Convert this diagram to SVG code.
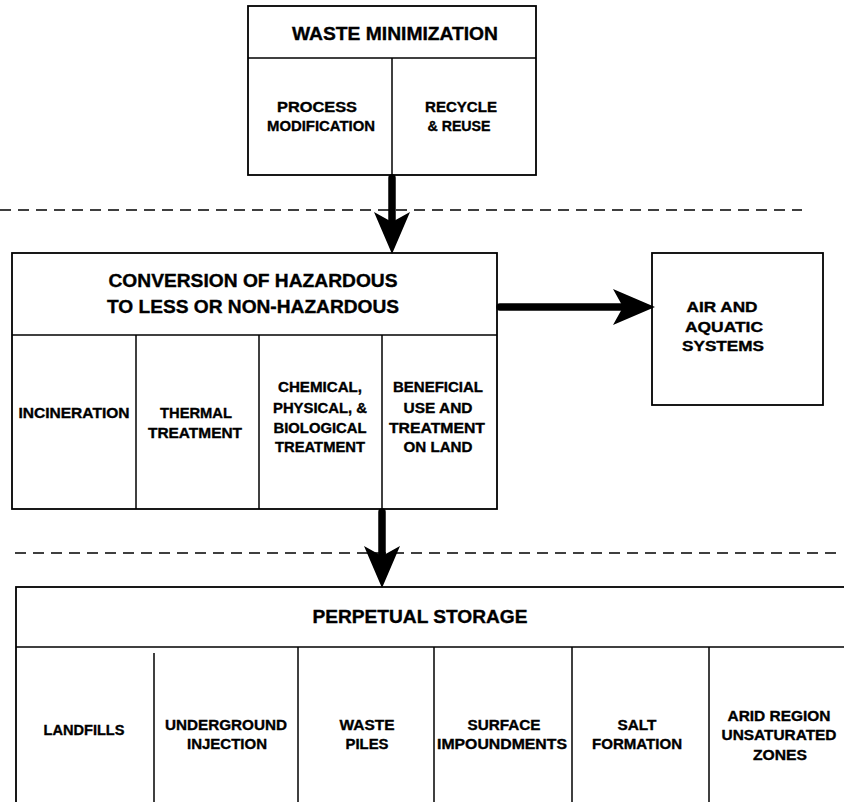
<svg xmlns="http://www.w3.org/2000/svg" width="844" height="802" viewBox="0 0 844 802">
<style>
.box{fill:#fff;stroke:#000;stroke-width:1.8}
.div{stroke:#000;stroke-width:1.5;fill:none}
.dash{stroke:#000;stroke-width:1.3;stroke-dasharray:11 7;fill:none}
.conn{stroke:#000;stroke-width:7.5;fill:none;stroke-linecap:round}
text{font-family:"Liberation Sans",Arial,sans-serif;font-weight:bold;text-anchor:middle;fill:#000;stroke:#000;stroke-width:0.35}
.h{font-size:18px}
.t{font-size:14.5px}
</style>
<defs>
<marker id="ah" viewBox="0 0 42 36" refX="10" refY="18" markerWidth="42" markerHeight="36" markerUnits="userSpaceOnUse" orient="auto">
<path d="M0,0 L42,18 L0,36 L10,18 Z" fill="#000"/>
</marker>
</defs>
<rect width="844" height="802" fill="#fff"/>
<g id="separators">
<line class="dash" x1="0" y1="210" x2="802" y2="210"/>
<line class="dash" x1="15" y1="553" x2="842" y2="553"/>
</g>
<g id="waste-minimization">
<rect class="box" x="248" y="6" width="288" height="169"/>
<line class="div" x1="248" y1="58" x2="536" y2="58"/>
<line class="div" x1="392" y1="58" x2="392" y2="175"/>
<text class="h" x="395" y="40" textLength="206" lengthAdjust="spacingAndGlyphs">WASTE MINIMIZATION</text>
<text class="t" x="317" y="112" textLength="80" lengthAdjust="spacingAndGlyphs">PROCESS</text>
<text class="t" x="321" y="131" textLength="108" lengthAdjust="spacingAndGlyphs">MODIFICATION</text>
<text class="t" x="461" y="112" textLength="72" lengthAdjust="spacingAndGlyphs">RECYCLE</text>
<text class="t" x="459" y="131" textLength="63" lengthAdjust="spacingAndGlyphs">&amp; REUSE</text>
</g>
<g id="conversion">
<rect class="box" x="12" y="253" width="485" height="256"/>
<line class="div" x1="12" y1="335" x2="497" y2="335"/>
<line class="div" x1="136" y1="335" x2="136" y2="509"/>
<line class="div" x1="259" y1="335" x2="259" y2="509"/>
<line class="div" x1="382" y1="335" x2="382" y2="509"/>
<text class="h" x="253" y="287" textLength="289" lengthAdjust="spacingAndGlyphs">CONVERSION OF HAZARDOUS</text>
<text class="h" x="253" y="313" textLength="292" lengthAdjust="spacingAndGlyphs">TO LESS OR NON-HAZARDOUS</text>
<text class="t" x="74" y="418" textLength="111" lengthAdjust="spacingAndGlyphs">INCINERATION</text>
<text class="t" x="196" y="418" textLength="72" lengthAdjust="spacingAndGlyphs">THERMAL</text>
<text class="t" x="195" y="438" textLength="94" lengthAdjust="spacingAndGlyphs">TREATMENT</text>
<text class="t" x="320" y="392" textLength="84" lengthAdjust="spacingAndGlyphs">CHEMICAL,</text>
<text class="t" x="320" y="413" textLength="94" lengthAdjust="spacingAndGlyphs">PHYSICAL, &amp;</text>
<text class="t" x="320" y="433" textLength="93" lengthAdjust="spacingAndGlyphs">BIOLOGICAL</text>
<text class="t" x="320" y="452" textLength="90" lengthAdjust="spacingAndGlyphs">TREATMENT</text>
<text class="t" x="438" y="392" textLength="90" lengthAdjust="spacingAndGlyphs">BENEFICIAL</text>
<text class="t" x="438" y="413" textLength="69" lengthAdjust="spacingAndGlyphs">USE AND</text>
<text class="t" x="437" y="433" textLength="96" lengthAdjust="spacingAndGlyphs">TREATMENT</text>
<text class="t" x="438" y="452" textLength="69" lengthAdjust="spacingAndGlyphs">ON LAND</text>
</g>
<g id="air-aquatic">
<rect class="box" x="652" y="253" width="171" height="152"/>
<text class="t" x="722" y="312" textLength="71" lengthAdjust="spacingAndGlyphs">AIR AND</text>
<text class="t" x="724" y="332" textLength="78" lengthAdjust="spacingAndGlyphs">AQUATIC</text>
<text class="t" x="723" y="351" textLength="82" lengthAdjust="spacingAndGlyphs">SYSTEMS</text>
</g>
<g id="perpetual-storage">
<rect class="box" x="16" y="587" width="850" height="240"/>
<line class="div" x1="16" y1="647" x2="844" y2="647"/>
<line class="div" x1="154" y1="653" x2="154" y2="802"/>
<line class="div" x1="298" y1="647" x2="298" y2="802"/>
<line class="div" x1="434" y1="647" x2="434" y2="802"/>
<line class="div" x1="572" y1="647" x2="572" y2="802"/>
<line class="div" x1="709" y1="647" x2="709" y2="802"/>
<text class="h" x="420" y="623" textLength="215" lengthAdjust="spacingAndGlyphs">PERPETUAL STORAGE</text>
<text class="t" x="84" y="735" textLength="81" lengthAdjust="spacingAndGlyphs">LANDFILLS</text>
<text class="t" x="226" y="730" textLength="122" lengthAdjust="spacingAndGlyphs">UNDERGROUND</text>
<text class="t" x="227" y="749" textLength="80" lengthAdjust="spacingAndGlyphs">INJECTION</text>
<text class="t" x="367" y="730" textLength="55" lengthAdjust="spacingAndGlyphs">WASTE</text>
<text class="t" x="367" y="749" textLength="43" lengthAdjust="spacingAndGlyphs">PILES</text>
<text class="t" x="504" y="730" textLength="73" lengthAdjust="spacingAndGlyphs">SURFACE</text>
<text class="t" x="502" y="749" textLength="130" lengthAdjust="spacingAndGlyphs">IMPOUNDMENTS</text>
<text class="t" x="637" y="730" textLength="39" lengthAdjust="spacingAndGlyphs">SALT</text>
<text class="t" x="637" y="749" textLength="90" lengthAdjust="spacingAndGlyphs">FORMATION</text>
<text class="t" x="779" y="721" textLength="103" lengthAdjust="spacingAndGlyphs">ARID REGION</text>
<text class="t" x="779" y="740" textLength="115" lengthAdjust="spacingAndGlyphs">UNSATURATED</text>
<text class="t" x="780" y="760" textLength="54" lengthAdjust="spacingAndGlyphs">ZONES</text>
</g>
<g id="connectors">
<line class="conn" x1="392" y1="178" x2="392" y2="222" marker-end="url(#ah)"/>
<line class="conn" x1="382" y1="512" x2="382" y2="556" marker-end="url(#ah)"/>
<line class="conn" x1="500" y1="307" x2="623" y2="307" marker-end="url(#ah)"/>
</g>
</svg>
